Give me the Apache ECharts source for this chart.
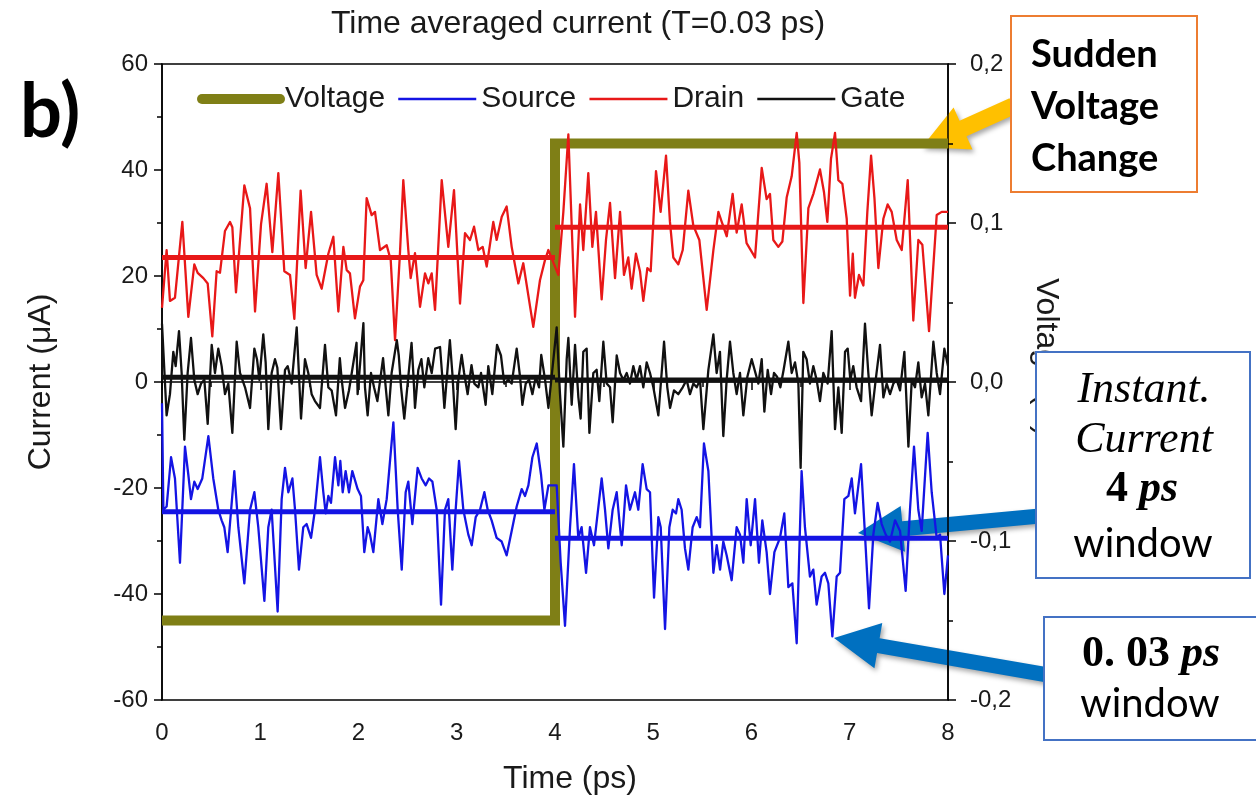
<!DOCTYPE html>
<html>
<head>
<meta charset="utf-8">
<title>Time averaged current</title>
<script src="https://cdn.jsdelivr.net/npm/echarts@6/dist/echarts.min.js"></script>
<style>
  html, body { margin: 0; padding: 0; background: #ffffff; }
  #chart { width: 1256px; height: 803px; }
</style>
</head>
<body>
<div id="chart"></div>
<script>
// Applied gate voltage (V): step from -0.15 V to +0.15 V at t = 4 ps
const voltageTimes = [0, 4, 4, 8];
const voltageLevels = [-0.15, -0.15, 0.15, 0.15];

// Instantaneous currents (uA) averaged over a 0.03 ps window, as [time (ps), current]
const drainPts = [
  [0,14],[0.047,24.9],[0.081,15.3],[0.132,15.9],[0.207,30.2],[0.268,12.3],[0.329,22.2],[0.363,20.6],
  [0.421,19.6],[0.465,18.6],[0.512,8.6],[0.556,20.9],[0.59,20.6],[0.641,28.5],[0.692,30.2],[0.716,29.2],
  [0.753,16.9],[0.838,37.1],[0.896,32.8],[0.947,13.3],[1.008,29.8],[1.065,37.4],[1.123,24.5],[1.184,39.4],
  [1.245,20.9],[1.303,20.2],[1.347,11.9],[1.411,36.1],[1.462,21.5],[1.517,32.1],[1.574,20.2],[1.625,17.6],
  [1.693,24.2],[1.744,27.4],[1.795,13.3],[1.846,25.5],[1.88,21.1],[1.913,20.5],[1.964,12.0],[2.015,18.0],
  [2.049,19.2],[2.083,34.7],[2.134,31.5],[2.168,32.1],[2.219,24.9],[2.287,25.8],[2.328,23.0],[2.372,7.9],
  [2.422,24.3],[2.456,38.1],[2.507,24.9],[2.531,19.6],[2.575,24.3],[2.626,14.2],[2.677,20.5],[2.711,18.6],
  [2.745,20.5],[2.779,13.6],[2.847,38.1],[2.914,25.5],[2.972,36.2],[3.033,14.8],[3.084,28.1],[3.135,26.8],
  [3.176,29.3],[3.22,24.9],[3.264,25.5],[3.305,21.8],[3.372,30.2],[3.406,26.8],[3.458,31.2],[3.508,33.1],
  [3.559,25.5],[3.627,18.6],[3.677,22.4],[3.779,10.4],[3.847,19.2],[3.898,23.0],[3.932,24.9],
  [4.034,20.2],[4.085,32.1],[4.136,46.7],[4.204,12.3],[4.255,33.5],[4.288,24.9],[4.339,39.4],[4.38,25.5],
  [4.417,32.1],[4.475,15.6],[4.519,26.8],[4.56,33.8],[4.611,19.6],[4.662,32.1],[4.702,20.2],[4.746,23.5],
  [4.78,17.6],[4.824,24.2],[4.865,20.9],[4.899,15.3],[4.94,21.5],[4.974,20.9],[5.028,39.8],[5.075,32.1],
  [5.13,42.7],[5.17,30.2],[5.204,23.5],[5.255,22.2],[5.3,24.9],[5.357,36.1],[5.408,29.5],[5.469,26.8],
  [5.544,13.6],[5.612,24.9],[5.663,32.1],[5.697,30.2],[5.748,27.5],[5.808,35.5],[5.849,28.2],[5.9,33.5],
  [5.95,26.2],[6.036,23.5],[6.104,40.4],[6.154,34.5],[6.188,35.5],[6.222,26.8],[6.273,25.5],[6.314,26.5],
  [6.358,34.8],[6.409,38.8],[6.46,47.0],[6.487,41.4],[6.528,14.9],[6.579,32.8],[6.63,35.5],[6.697,40.1],
  [6.738,35.8],[6.772,30.2],[6.809,42.1],[6.85,47.0],[6.884,38.1],[6.925,37.4],[6.969,30.8],[7.003,16.3],
  [7.031,24.2],[7.053,15.9],[7.094,20.2],[7.139,18.2],[7.179,32.1],[7.217,42.7],[7.251,34.8],[7.291,21.5],
  [7.342,30.8],[7.386,33.5],[7.427,32.1],[7.478,26.8],[7.529,24.9],[7.59,38.1],[7.647,11.6],[7.698,26.8],
  [7.739,25.9],[7.807,9.6],[7.885,31.5],[7.936,32.1],[8.0,32.1]
];

const gatePts = [
  [0,11.0],[0.047,-6.3],[0.081,-2.3],[0.115,5.7],[0.139,3.0],[0.173,9.6],[0.2,1.7],[0.227,-10.9],
  [0.261,1.7],[0.295,8.3],[0.329,0.4],[0.363,-2.3],[0.397,-0.3],[0.431,0.4],[0.465,-7.9],[0.506,7.0],
  [0.539,1.7],[0.573,6.3],[0.607,3.0],[0.641,-2.3],[0.675,-0.3],[0.716,-9.6],[0.76,7.6],[0.794,1.7],
  [0.845,-1.0],[0.896,-4.9],[0.94,6.3],[0.967,4.3],[0.991,0.4],[1.031,9.0],[1.055,3.7],[1.082,-8.9],
  [1.116,1.7],[1.15,4.3],[1.174,2.7],[1.211,-8.9],[1.252,2.3],[1.279,3.0],[1.32,-0.3],[1.371,10.3],
  [1.415,-6.9],[1.455,4.3],[1.489,1.7],[1.523,-2.3],[1.557,-3.6],[1.608,-4.9],[1.659,7.0],[1.693,-1.0],
  [1.727,-1.6],[1.771,-6.3],[1.81,4.5],[1.829,0.4],[1.863,-4.9],[1.903,-1.6],[1.98,7.4],[1.991,-2.3],
  [2.05,11.1],[2.066,-1.0],[2.093,-6.3],[2.127,1.7],[2.158,-1.0],[2.192,-3.6],[2.25,4.5],[2.27,0.4],
  [2.304,-6.3],[2.337,1.7],[2.39,7.9],[2.41,5.0],[2.433,-1.0],[2.466,-6.9],[2.54,7.4],[2.56,1.0],
  [2.575,-4.9],[2.609,2.3],[2.64,4.3],[2.67,-1.0],[2.71,4.5],[2.745,1.7],[2.78,6.3],[2.83,6.6],
  [2.85,1.7],[2.874,-4.9],[2.93,7.9],[2.955,1.7],[2.989,-8.9],[3.016,0.4],[3.05,5.1],[3.075,1.7],
  [3.111,-2.3],[3.15,3.2],[3.179,-0.3],[3.22,-1.0],[3.247,1.7],[3.294,-4.3],[3.321,3.0],[3.362,-2.3],
  [3.41,7.0],[3.45,5.0],[3.484,-0.3],[3.525,0.4],[3.559,-0.3],[3.61,6.3],[3.644,1.0],[3.668,-4.3],
  [3.702,-0.3],[3.736,0.4],[3.77,-2.3],[3.804,1.0],[3.838,-1.0],[3.86,5.1],[3.899,0.4],[3.933,-4.9],
  [4.017,10.3],[4.051,-2.3],[4.085,-12.2],[4.119,4.3],[4.136,8.3],[4.17,-4.3],[4.204,7.0],[4.238,-2.9],
  [4.261,-6.9],[4.288,5.7],[4.322,6.3],[4.35,-9.6],[4.39,1.7],[4.424,2.3],[4.451,-3.6],[4.492,7.6],
  [4.526,-0.3],[4.56,-1.0],[4.587,-7.6],[4.628,5.0],[4.662,1.7],[4.696,0.4],[4.73,1.7],[4.763,-0.3],
  [4.797,3.0],[4.831,0.4],[4.865,3.0],[4.899,-1.0],[4.933,3.7],[4.967,1.7],[5.001,-1.0],[5.052,-6.3],
  [5.11,7.6],[5.143,-1.0],[5.171,-4.9],[5.211,-1.6],[5.255,-2.3],[5.3,-1.0],[5.34,0.4],[5.374,-2.3],
  [5.408,-0.3],[5.442,-1.0],[5.476,0.4],[5.51,-8.9],[5.561,2.3],[5.612,9.0],[5.645,1.7],[5.679,5.7],
  [5.713,-10.2],[5.747,0.4],[5.781,7.6],[5.815,1.7],[5.849,-2.3],[5.883,1.7],[5.917,-6.3],[5.958,1.0],
  [6.002,4.3],[6.07,-0.3],[6.104,4.3],[6.131,-5.6],[6.165,2.3],[6.199,-2.3],[6.229,1.7],[6.26,1.0],
  [6.294,-1.0],[6.327,2.3],[6.375,7.6],[6.409,1.7],[6.443,3.7],[6.477,-0.3],[6.5,-16.2],[6.527,5.7],
  [6.561,4.3],[6.595,-0.3],[6.629,3.0],[6.663,0.4],[6.697,-3.6],[6.731,1.7],[6.775,-0.3],[6.816,9.6],
  [6.85,-8.9],[6.884,-1.0],[6.918,-9.6],[6.952,5.7],[6.979,6.3],[7.006,0.4],[7.036,3.0],[7.07,-1.0],
  [7.115,-3.6],[7.155,11.0],[7.189,1.7],[7.223,-6.3],[7.264,0.4],[7.308,7.0],[7.342,-2.9],[7.376,-0.3],
  [7.41,-2.3],[7.444,-0.3],[7.478,0.4],[7.512,-1.6],[7.556,5.7],[7.597,-12.2],[7.631,0.4],[7.664,-1.0],
  [7.698,3.7],[7.732,-2.9],[7.766,-0.3],[7.8,-6.3],[7.851,7.6],[7.885,1.7],[7.919,-2.3],[7.963,6.3],
  [8.0,3.0]
];

const sourcePts = [
  [0,-4],[0.014,-24.1],[0.047,-23.5],[0.092,-14.2],[0.132,-18.2],[0.183,-34.1],[0.234,-12.2],[0.268,-17.5],
  [0.295,-22.1],[0.329,-18.8],[0.363,-20.2],[0.41,-18.2],[0.472,-10.2],[0.522,-18.2],[0.573,-24.1],[0.607,-26.1],
  [0.634,-27.4],[0.668,-32.1],[0.736,-16.8],[0.777,-27.4],[0.838,-38.0],[0.896,-24.1],[0.94,-20.8],[0.98,-27.4],
  [1.042,-41.3],[1.082,-27.4],[1.116,-24.1],[1.177,-43.3],[1.218,-22.1],[1.252,-16.2],[1.286,-20.8],[1.327,-18.2],
  [1.354,-24.1],[1.394,-35.4],[1.438,-27.4],[1.472,-26.8],[1.517,-29.4],[1.557,-24.1],[1.608,-14.2],[1.642,-20.8],
  [1.666,-24.8],[1.693,-21.5],[1.72,-22.8],[1.761,-14.2],[1.795,-19.5],[1.815,-14.9],[1.839,-20.8],[1.869,-16.8],
  [1.903,-20.8],[1.937,-16.8],[1.991,-20.2],[2.025,-21.5],[2.059,-32.1],[2.093,-27.4],[2.117,-28.8],[2.151,-32.1],
  [2.202,-22.1],[2.243,-26.8],[2.287,-22.1],[2.355,-7.6],[2.399,-24.1],[2.44,-35.4],[2.48,-20.8],[2.507,-18.8],
  [2.548,-26.8],[2.602,-16.2],[2.643,-18.2],[2.684,-19.5],[2.718,-18.2],[2.752,-18.8],[2.796,-24.1],[2.84,-42.0],
  [2.88,-24.1],[2.914,-22.1],[2.955,-35.4],[2.989,-24.1],[3.023,-14.9],[3.067,-24.1],[3.118,-28.8],[3.152,-30.8],
  [3.193,-25.5],[3.237,-24.1],[3.281,-20.8],[3.315,-24.1],[3.355,-26.1],[3.406,-29.4],[3.457,-30.1],[3.508,-32.7],
  [3.559,-28.1],[3.61,-23.5],[3.661,-20.2],[3.695,-21.5],[3.729,-19.5],[3.77,-14.2],[3.814,-11.6],[3.858,-17.5],
  [3.892,-24.1],[3.933,-19.5],
  [4.017,-19.5],[4.058,-34.1],[4.102,-46.0],[4.153,-27.4],[4.193,-15.5],[4.237,-29.4],[4.271,-27.4],[4.316,-36.0],
  [4.356,-27.4],[4.397,-30.8],[4.475,-18.2],[4.509,-24.1],[4.543,-31.4],[4.587,-24.1],[4.628,-20.8],[4.679,-30.8],
  [4.723,-19.5],[4.763,-24.1],[4.814,-20.8],[4.848,-24.1],[4.892,-15.5],[4.933,-20.2],[4.967,-20.8],[5.008,-40.7],
  [5.052,-25.5],[5.076,-27.4],[5.12,-46.6],[5.164,-27.4],[5.198,-24.1],[5.232,-24.8],[5.255,-22.1],[5.289,-24.1],
  [5.323,-31.4],[5.357,-35.4],[5.401,-27.4],[5.442,-25.5],[5.476,-27.4],[5.516,-11.6],[5.561,-16.8],[5.612,-36.0],
  [5.646,-30.8],[5.68,-35.4],[5.713,-30.1],[5.747,-32.7],[5.798,-37.4],[5.849,-27.4],[5.883,-28.8],[5.917,-34.1],
  [5.951,-22.1],[5.992,-30.8],[6.036,-22.1],[6.076,-34.1],[6.11,-26.1],[6.154,-32.1],[6.188,-40.0],[6.233,-32.1],
  [6.29,-29.4],[6.334,-24.8],[6.375,-38.7],[6.416,-38.0],[6.46,-49.3],[6.51,-16.8],[6.544,-27.4],[6.595,-36.7],
  [6.629,-35.4],[6.663,-42.0],[6.714,-36.7],[6.748,-36.0],[6.782,-38.0],[6.823,-48.0],[6.867,-36.7],[6.901,-36.0],
  [6.945,-22.1],[6.986,-21.5],[7.02,-18.2],[7.053,-24.8],[7.115,-15.5],[7.155,-28.8],[7.196,-42.7],[7.24,-28.8],
  [7.284,-22.8],[7.325,-26.8],[7.366,-28.8],[7.41,-30.1],[7.461,-26.1],[7.512,-28.1],[7.569,-39.4],[7.613,-24.1],
  [7.654,-12.2],[7.698,-24.1],[7.732,-28.1],[7.793,-9.6],[7.834,-20.8],[7.885,-29.4],[7.919,-28.8],[7.963,-40.0],
  [8.0,-32.7]
];

// Current averaged over each 4 ps window (before / after the voltage step)
const windowStarts = [0, 4];
const windowEnds = [4, 8];
const drainAvg = [23.5, 29.2];
const gateAvg = [0.9, 0.4];
const sourceAvg = [-24.5, -29.5];

// Axis tick values
const timeTicks = { min: 0, max: 8, step: 1 };
const currentTicks = { min: -60, max: 60, step: 20 };
const voltageTicks = { min: -0.2, max: 0.2, step: 0.1 };

const COLORS = { voltage: '#7f7f16', source: '#1414e4', drain: '#e81818', gate: '#111111' };
const SANS = 'Liberation Sans';
const TEXT = '#1a1a1a';
const TRACE_W = 2.3;
const AVG_W = 5;

function windowLine(avg) {
  // two flat segments, one per averaging window, broken at the step
  return [
    [windowStarts[0], avg[0]], [windowEnds[0], avg[0]], [windowEnds[0], '-'],
    [windowStarts[1], avg[1]], [windowEnds[1], avg[1]]
  ];
}

function arrowShape(x1, y1, x2, y2, w, L, H) {
  const dx = x2 - x1, dy = y2 - y1, len = Math.hypot(dx, dy);
  const ux = dx / len, uy = dy / len, px = -uy, py = ux;
  const bx = x2 - ux * L, by = y2 - uy * L;
  return [
    [x1 + px * w / 2, y1 + py * w / 2], [bx + px * w / 2, by + py * w / 2],
    [bx + px * H / 2, by + py * H / 2], [x2, y2],
    [bx - px * H / 2, by - py * H / 2], [bx - px * w / 2, by - py * w / 2],
    [x1 - px * w / 2, y1 - py * w / 2]
  ];
}

const arrowShadow = { shadowBlur: 5, shadowOffsetX: 2, shadowOffsetY: 3, shadowColor: 'rgba(0,0,0,0.35)' };
const noMarker = { color: 'rgba(0,0,0,0)', borderColor: 'rgba(0,0,0,0)', borderWidth: 0, opacity: 0 };

const chart = echarts.init(document.getElementById('chart'), null, { renderer: 'canvas' });

const axisLineStyle = { color: '#000', width: 1.5 };
const labelStyle = { fontFamily: SANS, fontSize: 24, color: TEXT };

const option = {
  backgroundColor: '#ffffff',
  animation: false,
  grid: {
    left: 162, right: 308, top: 64, bottom: 103,
    show: true, borderColor: '#000', borderWidth: 1.5, backgroundColor: 'transparent',
    containLabel: false, outerBoundsMode: 'none'
  },
  legend: {
    left: 192, top: 79,
    itemWidth: 78, itemHeight: 14, itemGap: 12,
    textStyle: { fontFamily: SANS, fontSize: 30, color: TEXT },
    data: [
      { name: 'Voltage', itemStyle: noMarker, lineStyle: { width: 10, cap: 'round', color: COLORS.voltage } },
      { name: 'Source', itemStyle: noMarker, lineStyle: { width: 2.3, color: COLORS.source } },
      { name: 'Drain', itemStyle: noMarker, lineStyle: { width: 2.3, color: COLORS.drain },
        textStyle: { fontFamily: SANS, fontSize: 30, color: TEXT, padding: [0, 18, 0, 0] } },
      { name: 'Gate', itemStyle: noMarker, lineStyle: { width: 2.3, color: COLORS.gate } }
    ]
  },
  xAxis: {
    type: 'value', min: timeTicks.min, max: timeTicks.max, interval: timeTicks.step,
    axisLine: { show: true, lineStyle: axisLineStyle },
    axisTick: { show: true, inside: false, length: 8, lineStyle: axisLineStyle },
    minorTick: { show: true, splitNumber: 2, length: 5, lineStyle: axisLineStyle },
    splitLine: { show: false },
    axisLabel: Object.assign({ margin: 21 }, labelStyle)
  },
  yAxis: [
    {
      type: 'value', min: currentTicks.min, max: currentTicks.max, interval: currentTicks.step,
      position: 'left',
      axisLine: { show: true, lineStyle: axisLineStyle },
      axisTick: { show: true, inside: false, length: 8, lineStyle: axisLineStyle },
      minorTick: { show: true, splitNumber: 2, length: 5, lineStyle: axisLineStyle },
      splitLine: { show: false },
      axisLabel: Object.assign({ margin: 14 }, labelStyle)
    },
    {
      type: 'value', min: voltageTicks.min, max: voltageTicks.max, interval: voltageTicks.step,
      position: 'right',
      axisLine: { show: true, lineStyle: axisLineStyle },
      axisTick: { show: true, inside: false, length: 8, lineStyle: axisLineStyle },
      minorTick: { show: true, splitNumber: 2, length: 5, lineStyle: axisLineStyle },
      splitLine: { show: false },
      axisLabel: Object.assign({
        margin: 22,
        formatter: v => v.toFixed(1).replace('.', ',')
      }, labelStyle)
    }
  ],
  series: [
    {
      name: 'Voltage', type: 'line', yAxisIndex: 1, symbol: 'none', z: 2,
      data: voltageTimes.map((t, i) => [t, voltageLevels[i]]),
      lineStyle: { color: COLORS.voltage, width: 10, join: 'miter', cap: 'butt' },
      itemStyle: { color: COLORS.voltage }
    },
    {
      name: 'Source', type: 'line', symbol: 'none', z: 3, data: sourcePts,
      lineStyle: { color: COLORS.source, width: TRACE_W, join: 'round' }, itemStyle: { color: COLORS.source }
    },
    {
      name: 'Drain', type: 'line', symbol: 'none', z: 3, data: drainPts,
      lineStyle: { color: COLORS.drain, width: TRACE_W, join: 'round' }, itemStyle: { color: COLORS.drain }
    },
    {
      name: 'Gate', type: 'line', symbol: 'none', z: 3, data: gatePts,
      lineStyle: { color: COLORS.gate, width: TRACE_W, join: 'round' }, itemStyle: { color: COLORS.gate }
    },
    {
      name: 'Source 4 ps', type: 'line', symbol: 'none', z: 4, data: windowLine(sourceAvg),
      lineStyle: { color: COLORS.source, width: AVG_W }
    },
    {
      name: 'Drain 4 ps', type: 'line', symbol: 'none', z: 4, data: windowLine(drainAvg),
      lineStyle: { color: COLORS.drain, width: AVG_W }
    },
    {
      name: 'Gate 4 ps', type: 'line', symbol: 'none', z: 4, data: windowLine(gateAvg),
      lineStyle: { color: COLORS.gate, width: AVG_W }
    }
  ],
  graphic: { elements: [
    { type: 'text', x: 578, y: 24, style: { text: 'Time averaged current (T=0.03 ps)', font: '32px "Liberation Sans"', fill: TEXT, align: 'center', verticalAlign: 'middle' } },
    { type: 'text', x: 570, y: 779, style: { text: 'Time (ps)', font: '32px "Liberation Sans"', fill: TEXT, align: 'center', verticalAlign: 'middle' } },
    { type: 'text', x: 41, y: 382, rotation: Math.PI / 2, style: { text: 'Current (\u03bcA)', font: '32px "Liberation Sans"', fill: TEXT, align: 'center', verticalAlign: 'middle' } },
    { type: 'text', x: 1046, y: 278, rotation: -Math.PI / 2, style: { text: 'Voltage (V)', font: '32px "Liberation Sans"', fill: TEXT, align: 'left', verticalAlign: 'middle' } },
    { type: 'text', x: 20, y: 113, style: { text: 'b)', font: 'bold 74px Lato', fill: '#000', align: 'left', verticalAlign: 'middle' } },

    // "Sudden Voltage Change" callout
    { type: 'polygon', shape: { points: arrowShape(1013, 106, 922, 147, 17, 45, 46) }, style: Object.assign({ fill: '#ffc000' }, arrowShadow) },
    { type: 'rect', shape: { x: 1011, y: 16, width: 186, height: 176 }, style: { fill: '#fff', stroke: '#ed7d31', lineWidth: 2 } },
    { type: 'text', x: 1031, y: 55, style: { text: 'Sudden', font: 'bold 38px Lato', fill: '#000', align: 'left', verticalAlign: 'middle' } },
    { type: 'text', x: 1031, y: 107, style: { text: 'Voltage', font: 'bold 38px Lato', fill: '#000', align: 'left', verticalAlign: 'middle' } },
    { type: 'text', x: 1031, y: 159, style: { text: 'Change', font: 'bold 38px Lato', fill: '#000', align: 'left', verticalAlign: 'middle' } },

    // 4 ps window callout
    { type: 'polygon', shape: { points: arrowShape(1040, 516, 858, 533, 15, 45, 46) }, style: Object.assign({ fill: '#0070c0' }, arrowShadow) },
    { type: 'rect', shape: { x: 1036, y: 352, width: 214, height: 226 }, style: { fill: '#fff', stroke: '#4472c4', lineWidth: 2 } },
    { type: 'text', x: 1144, y: 390, style: { text: 'Instant.', font: 'italic 44px "Liberation Serif"', fill: '#000', align: 'center', verticalAlign: 'middle' } },
    { type: 'text', x: 1144, y: 440, style: { text: 'Current', font: 'italic 44px "Liberation Serif"', fill: '#000', align: 'center', verticalAlign: 'middle' } },
    { type: 'text', x: 1142, y: 490, style: {
      text: '{a|4 }{b|ps}', align: 'center', verticalAlign: 'middle',
      rich: {
        a: { font: 'bold 44px "Liberation Serif"', fill: '#000' },
        b: { font: 'italic bold 44px "Liberation Serif"', fill: '#000' }
      } } },
    { type: 'text', x: 1143, y: 544, style: { text: 'window', font: '40px Lato', fill: '#000', align: 'center', verticalAlign: 'middle' } },

    // 0.03 ps window callout
    { type: 'polygon', shape: { points: arrowShape(1048, 675, 834, 638, 15, 45, 46) }, style: Object.assign({ fill: '#0070c0' }, arrowShadow) },
    { type: 'rect', shape: { x: 1044, y: 617, width: 216, height: 123 }, style: { fill: '#fff', stroke: '#4472c4', lineWidth: 2 } },
    { type: 'text', x: 1151, y: 655, style: {
      text: '{a|0. 03 }{b|ps}', align: 'center', verticalAlign: 'middle',
      rich: {
        a: { font: 'bold 44px "Liberation Serif"', fill: '#000' },
        b: { font: 'italic bold 44px "Liberation Serif"', fill: '#000' }
      } } },
    { type: 'text', x: 1150, y: 704, style: { text: 'window', font: '40px Lato', fill: '#000', align: 'center', verticalAlign: 'middle' } }
  ] }
};

chart.setOption(option);
</script>
</body>
</html>
